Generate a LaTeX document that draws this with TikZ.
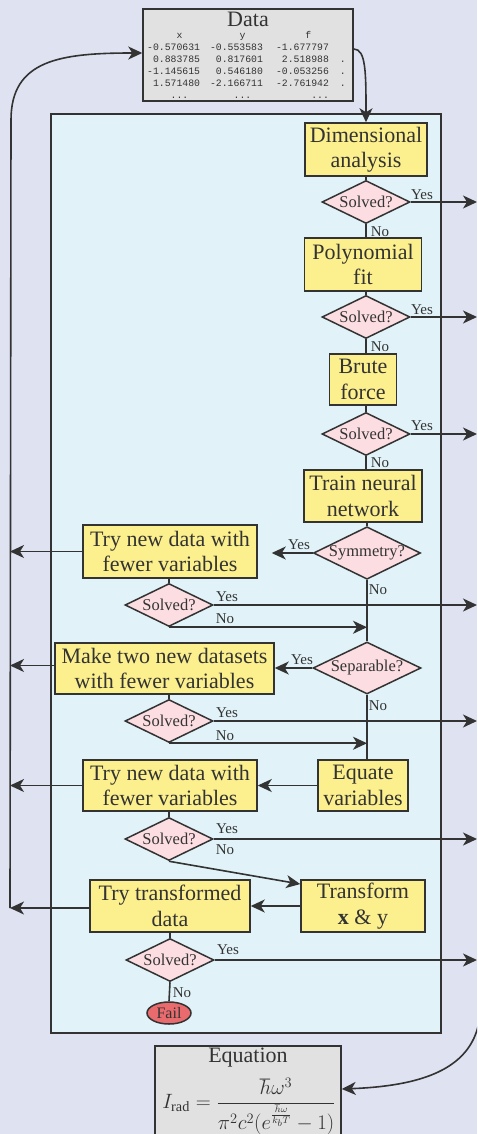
\documentclass[tikz,border=0pt]{standalone}
\usepackage{fontspec}
\setmainfont{Liberation Serif}
\newfontfamily\monofont{Liberation Mono}
\usetikzlibrary{arrows.meta,shapes.geometric,calc}
\definecolor{bgout}{HTML}{DFE3F1}
\definecolor{bgin}{HTML}{E1F3F8}
\definecolor{yel}{HTML}{FCEF8D}
\definecolor{pnk}{HTML}{FCDDE1}
\definecolor{failred}{HTML}{EA6B6E}
\definecolor{gry}{HTML}{E1E1E1}
\definecolor{edge}{HTML}{333333}
\definecolor{txt}{HTML}{333333}
\begin{document}
\begin{tikzpicture}[x=1pt,y=-1pt,
  ybox/.style={draw=edge,fill=yel,line width=1.5pt,align=center,inner sep=0pt,text=txt,font=\fontsize{22}{25.5}\selectfont},
  gbox/.style={draw=edge,fill=gry,line width=1.5pt,inner sep=0pt},
  dia/.style={diamond,aspect=2,draw=edge,fill=pnk,line width=1.5pt,inner sep=0pt,text=txt,font=\fontsize{16.5}{18}\selectfont},
  lab/.style={inner sep=0pt,text=txt,font=\fontsize{15}{16}\selectfont},
  ttl/.style={inner sep=0pt,text=txt,font=\fontsize{22}{25}\selectfont},
  conn/.style={draw=edge,line width=1.6pt},
  arr/.style={conn,-{Stealth[length=14pt,width=13pt,inset=4pt]}}]
\clip (0,0) rectangle (477,1134);
\fill[bgout] (0,0) rectangle (477,1134);
% panel
\node[draw=edge,fill=bgin,line width=1.5pt,minimum width=390pt,minimum height=919pt,inner sep=0pt] (panel) at (246,573.5) {};
% free-end coordinates
\coordinate (lb) at (10,908);
\coordinate (lt) at (11,120);
\coordinate (rr) at (477,0);
\coordinate (eqsrc) at (479,1022);
% data box
\node[gbox,minimum width=210pt,minimum height=92pt] (data) at (248,55) {};
\node[ttl] (dtitle) at (248,19) {Data};
\node[inner sep=0pt,text=txt,font=\monofont\fontsize{9.8}{12}\selectfont] (dtab) at (246.5,66) {%
\begin{tabular}{@{}r@{\hspace{10pt}}r@{\hspace{13pt}}r@{\hspace{11pt}}l@{}}
x\phantom{000} & y\phantom{000} & f\phantom{000} & \\
-0.570631 & -0.553583 & -1.677797 & \\
0.883785 & 0.817601 & 2.518988 & .\\
-1.145615 & 0.546180 & -0.053256 & .\\
1.571480 & -2.166711 & -2.761942 & .\\
...\phantom{00} & ...\phantom{00} & ... & \\
\end{tabular}};
% right column
\node[ybox,minimum width=122pt,minimum height=53pt] (da) at (366,149.5) {Dimensional\\analysis};
\node[dia,minimum width=88pt,minimum height=43pt] (s1) at (366,202) {Solved?};
\node[ybox,minimum width=117pt,minimum height=53pt] (poly) at (363,264.5) {Polynomial\\fit};
\node[dia,minimum width=88pt,minimum height=43pt] (s2) at (366,317) {Solved?};
\node[ybox,minimum width=67pt,minimum height=51pt] (brute) at (363,379.5) {Brute\\force};
\node[dia,minimum width=88pt,minimum height=43pt] (s3) at (366,434) {Solved?};
\node[ybox,minimum width=118pt,minimum height=52pt] (nn) at (363,496) {Train neural\\network};
\node[dia,minimum width=107pt,minimum height=52pt] (sym) at (367,553) {Symmetry?};
\node[dia,minimum width=108pt,minimum height=52pt] (sep) at (367,668) {Separable?};
\node[ybox,minimum width=90pt,minimum height=51pt] (equate) at (363,785.5) {Equate\\variables};
\node[ybox,minimum width=124pt,minimum height=52pt] (transform) at (363,906) {Transform\\\textbf{x} \& y};
% left column
\node[ybox,minimum width=174pt,minimum height=53pt] (try1) at (170,551.5) {Try new data with\\fewer variables};
\node[dia,minimum width=88pt,minimum height=43pt] (s4) at (169,605) {Solved?};
\node[ybox,minimum width=219pt,minimum height=51pt] (two) at (164.5,668.5) {Make two new datasets\\with fewer variables};
\node[dia,minimum width=88pt,minimum height=43pt] (s5) at (169,721) {Solved?};
\node[ybox,minimum width=174pt,minimum height=51pt] (try2) at (170,785.5) {Try new data with\\fewer variables};
\node[dia,minimum width=88pt,minimum height=43pt] (s6) at (169,839) {Solved?};
\node[ybox,minimum width=160pt,minimum height=52pt] (trytr) at (170,906) {Try transformed\\data};
\node[dia,minimum width=88pt,minimum height=43pt] (s7) at (170,960) {Solved?};
\node[ellipse,draw=edge,fill=failred,line width=1.5pt,minimum width=44pt,minimum height=22pt,inner sep=0pt,text=txt,font=\fontsize{16}{17}\selectfont] (fail) at (169,1013) {Fail};
% equation
\node[gbox,minimum width=186pt,minimum height=100pt] (eq) at (248,1096) {};
\node[ttl] (eqt) at (248,1058) {Equation};
\node[inner sep=0pt,text=txt] (eqf) at (249,1106) {\scalebox{1.2}{\fontsize{17}{20}\selectfont$\displaystyle I_{\mathrm{rad}}=\frac{\hbar\omega^3}{\pi^2c^2(e^{\frac{\hbar\omega}{k_bT}}-1)}$}};
% connectors: main column
\draw[arr] ($(data.east)+(0,-6)$) .. controls (366,49) and (366,73) .. (da.north);
\draw[conn] (da.south -| s1.north) -- (s1.north);
\draw[conn] (s1.south) -- (s1.south |- poly.north);
\draw[conn] (poly.south -| s2.north) -- (s2.north);
\draw[conn] (s2.south) -- (s2.south |- brute.north);
\draw[conn] (brute.south -| s3.north) -- (s3.north);
\draw[conn] (s3.south) -- (s3.south |- nn.north);
\draw[conn] (nn.south -| sym.north) -- (sym.north);
\draw[conn] (sym.south) -- (sep.north);
\draw[conn] (sep.south) -- (sep.south |- equate.north);
% yes arrows to the right
\draw[arr] (s1.east) -- (s1.east -| rr);
\draw[arr] (s2.east) -- (s2.east -| rr);
\draw[arr] (s3.east) -- (s3.east -| rr);
\draw[arr] (s4.east) -- (s4.east -| rr);
\draw[arr] (s5.east) -- (s5.east -| rr);
\draw[arr] (s6.east) -- (s6.east -| rr);
\draw[arr] (s7.east) -- (s7.east -| rr);
% symmetry / separable branches
\draw[arr] (sym.west) -- ($(try1.east |- sym.west)+(14,0)$);
\draw[arr] (sep.west) -- (two.east |- sep.west);
\draw[conn] (try1.south -| s4.north) -- (s4.north);
\draw[conn] (two.south -| s5.north) -- (s5.north);
\draw[conn] (try2.south -| s6.north) -- (s6.north);
\draw[conn] (trytr.south -| s7.north) -- (s7.north);
\draw[conn] (s7.south) -- (fail.north);
\draw[arr] (s4.south) -- (s4.south -| sym.south);
\draw[arr] (s5.south) -- (s5.south -| sep.south);
\draw[arr] (equate.west) -- (try2.east |- equate.west);
\draw[arr] (s6.south) -- ($(transform.north west)!0.09!(transform.south west)$);
\draw[arr] (transform.west) -- (trytr.east |- transform.west);
% left arrows
\draw[arr] (try1.west) -- (try1.west -| lb);
\draw[arr] ($(two.west)+(0,-3)$) -- ($(two.west -| lb)+(0,-3)$);
\draw[arr] (try2.west) -- (try2.west -| lb);
\draw[arr] ($(trytr.west)+(0,2)$) -- ($(trytr.west -| lb)+(0,2)$);
\draw[arr] (lb) -- (lt) .. controls (11,60) and (60,53) .. ($(data.west)+(0,-2)$);
% to equation
\draw[arr] (eqsrc) .. controls (470,1070) and (420,1086) .. ($(eq.east |- eqf.center)+(0,-17)$);
% labels
\node[lab] (y1) at (422,195) {Yes};
\node[lab] (n1) at (380,232) {No};
\node[lab] (y2) at (422,310) {Yes};
\node[lab] (n2) at (380,347) {No};
\node[lab] (y3) at (422,426) {Yes};
\node[lab] (n3) at (380,463) {No};
\node[lab] (ysym) at (299,545) {Yes};
\node[lab] (nsym) at (378,590) {No};
\node[lab] (y4) at (227,597) {Yes};
\node[lab] (n4) at (225,619) {No};
\node[lab] (ysep) at (302,660) {Yes};
\node[lab] (nsep) at (378,706) {No};
\node[lab] (y5) at (227,713) {Yes};
\node[lab] (n5) at (225,736) {No};
\node[lab] (y6) at (227,829) {Yes};
\node[lab] (n6) at (225,850) {No};
\node[lab] (y7) at (228,950) {Yes};
\node[lab] (n7) at (182,993) {No};
\end{tikzpicture}
\end{document}
